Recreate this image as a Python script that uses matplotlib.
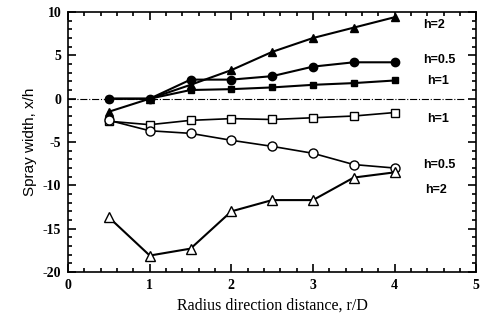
import matplotlib
matplotlib.use('Agg')
import matplotlib.pyplot as plt
from matplotlib.ticker import MultipleLocator

plt.rcParams['axes.unicode_minus'] = False

# r/D positions
r = [0.5, 1.0, 1.5, 2.0, 2.5, 3.0, 3.5, 4.0]

# upper side (filled markers)
up_h2 = [-1.5, 0.0, 1.6, 3.3, 5.4, 7.0, 8.2, 9.4]
up_h05 = [0.0, 0.0, 2.2, 2.2, 2.6, 3.7, 4.2, 4.2]
up_h1 = [0.0, 0.0, 1.0, 1.1, 1.3, 1.6, 1.8, 2.1]

# lower side (open markers)
lo_h1 = [-2.6, -3.0, -2.5, -2.3, -2.4, -2.2, -2.0, -1.6]
lo_h05 = [-2.5, -3.7, -4.0, -4.8, -5.5, -6.3, -7.6, -8.0]
lo_h2 = [-13.7, -18.1, -17.3, -13.0, -11.7, -11.7, -9.1, -8.5]

labels = ['h=2', 'h=0.5', 'h=1', 'h=1', 'h=0.5', 'h=2']
label_y = [8.5, 4.5, 2.0, -2.4, -7.6, -10.5]
label_x = [4.35, 4.35, 4.4, 4.4, 4.35, 4.37]

serif = 'Liberation Serif'

fig = plt.figure(figsize=(4.8, 3.25), dpi=100)
ax = fig.add_axes([0.142, 0.163, 0.85, 0.8])

ax.plot([0, 4.85], [0, 0], color='black', lw=0.8, ls='-.')

kw = dict(color='black', lw=1.5, markersize=6)
ax.plot(r, up_h2, marker='^', **kw)
ax.plot(r, up_h05, marker='o', **kw)
ax.plot(r, up_h1, marker='s', markersize=5, color='black', lw=1.5)
ax.plot(r, lo_h1, marker='s', mfc='white', markersize=6, color='black', lw=1.2)
ax.plot(r, lo_h05, marker='o', mfc='white', markersize=6.5, color='black', lw=1.2)
ax.plot(r, lo_h2, marker='^', mfc='white', markersize=6.5, color='black', lw=1.5)

for t, x, y in zip(labels, label_x, label_y):
    ax.text(x, y, t, fontsize=9, fontweight='bold', family='Liberation Sans',
            va='center', ha='left')

ax.set_xlim(0, 5)
ax.set_ylim(-20, 10)
ax.xaxis.set_major_locator(MultipleLocator(1))
ax.xaxis.set_minor_locator(MultipleLocator(0.2))
ax.yaxis.set_major_locator(MultipleLocator(5))
ax.yaxis.set_minor_locator(MultipleLocator(1))
ax.tick_params(which='both', direction='in', top=True, right=True, width=1.2)
ax.tick_params(which='major', length=6, pad=5)
ax.tick_params(which='minor', length=3)
for lab in ax.get_xticklabels() + ax.get_yticklabels():
    lab.set_family(serif)
    lab.set_fontweight('bold')
    lab.set_fontsize(10)
for s in ax.spines.values():
    s.set_linewidth(1.2)

ax.set_xlabel('Radius direction distance, r/D', family=serif, fontsize=11.5)
ax.set_ylabel('Spray width, x/h', family='Liberation Sans', fontsize=11)

fig.savefig('out.png', dpi=100)
